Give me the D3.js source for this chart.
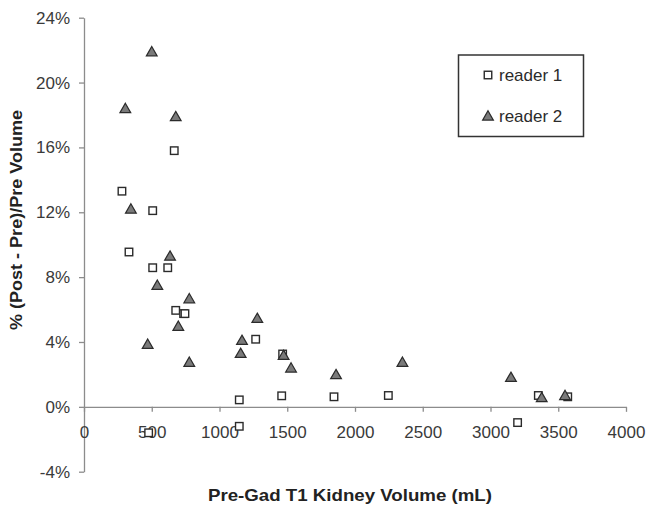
<!DOCTYPE html>
<html>
<head>
<meta charset="utf-8">
<script src="https://cdn.jsdelivr.net/npm/d3@7"></script>
<style>
  body { margin: 0; background: #fff; }
  text { font-family: "Liberation Sans", Arial, sans-serif; }
</style>
</head>
<body>
<svg width="646" height="507"></svg>
<script>
// reader 1 (open squares)
const reader1Vol = [280, 666, 507, 332, 507, 618, 677, 735, 745, 1267, 1466, 1146, 1459, 1146, 477, 1845, 2246, 3200, 3353, 3570];
const reader1Pct = [13.3, 15.8, 12.1, 9.55, 8.58, 8.58, 5.95, 5.75, 5.75, 4.17, 3.26, 0.43, 0.68, -1.2, -1.6, 0.62, 0.70, -0.97, 0.70, 0.62];
// reader 2 (grey triangles)
const reader2Vol = [500, 305, 677, 346, 635, 541, 777, 696, 470, 777, 1166, 1156, 1279, 1473, 1528, 1860, 2350, 3151, 3378, 3550];
const reader2Pct = [21.9, 18.4, 17.9, 12.2, 9.3, 7.5, 6.67, 4.97, 3.86, 2.75, 4.1, 3.3, 5.46, 3.18, 2.4, 1.99, 2.75, 1.82, 0.57, 0.70];

const xTicks = [0, 500, 1000, 1500, 2000, 2500, 3000, 3500, 4000];
const yTicks = [-4, 0, 4, 8, 12, 16, 20, 24];
const seriesNames = ['reader 1', 'reader 2'];

var svg = d3.select('svg');

let x = d3.scaleLinear().domain([0, 4000]).range([84, 626]);
let y = d3.scaleLinear().domain([-4, 24]).range([471.7, 17.7]);

// y axis
let yAxis = svg.append('g')
    .attr('transform', `translate(${x(0)},0)`)
    .call(d3.axisLeft(y).tickValues(yTicks).tickSize(5).tickPadding(9)
        .tickSizeOuter(0).tickFormat(d => d + '%'));

// x axis along the 0% line
let xAxis = svg.append('g')
    .attr('transform', `translate(0,${y(0)})`)
    .call(d3.axisBottom(x).tickValues(xTicks).tickSize(5).tickPadding(14)
        .tickSizeOuter(0).tickFormat(d3.format('d')));

svg.selectAll('.domain, .tick line')
    .attr('stroke', '#8c8c8c')
    .attr('stroke-width', 1.3);
svg.selectAll('.tick text')
    .attr('fill', '#3a3a3a')
    .style('font-size', '17px');

// axis titles
svg.append('text')
    .attr('x', 350)
    .attr('y', 501)
    .attr('text-anchor', 'middle')
    .attr('textLength', 284)
    .attr('lengthAdjust', 'spacingAndGlyphs')
    .style('font-size', '17px')
    .style('font-weight', 'bold')
    .attr('fill', '#222')
    .text('Pre-Gad T1 Kidney Volume (mL)');

svg.append('text')
    .attr('transform', 'translate(22,220) rotate(-90)')
    .attr('text-anchor', 'middle')
    .attr('textLength', 220)
    .attr('lengthAdjust', 'spacingAndGlyphs')
    .style('font-size', '16px')
    .style('font-weight', 'bold')
    .attr('fill', '#222')
    .text('% (Post - Pre)/Pre Volume');

const tri = d3.symbol().type(d3.symbolTriangle).size(50);

function drawSquare(g, cx, cy) {
    g.append('rect')
        .attr('x', cx - 3.75)
        .attr('y', cy - 3.75)
        .attr('width', 7.5)
        .attr('height', 7.5)
        .attr('fill', '#fff')
        .attr('stroke', '#2b2b2b')
        .attr('stroke-width', 1.4);
}
function drawTri(g, cx, cy) {
    g.append('path')
        .attr('d', tri)
        .attr('transform', `translate(${cx},${cy + 1})`)
        .attr('fill', '#7a7a7a')
        .attr('stroke', '#2b2b2b')
        .attr('stroke-width', 1.2);
}

let pts = svg.append('g');
reader1Vol.forEach((v, i) => drawSquare(pts, x(v), y(reader1Pct[i])));
reader2Vol.forEach((v, i) => drawTri(pts, x(v), y(reader2Pct[i])));

// legend
let legend = svg.append('g');
legend.append('rect')
    .attr('x', 458.5)
    .attr('y', 55)
    .attr('width', 125)
    .attr('height', 81.5)
    .attr('fill', '#fff')
    .attr('stroke', '#333')
    .attr('stroke-width', 1.5);
drawSquare(legend, 488, 75);
drawTri(legend, 488, 116);
seriesNames.forEach((s, i) => {
    legend.append('text')
        .attr('x', 499)
        .attr('y', 81 + i * 41)
        .style('font-size', '17px')
        .attr('fill', '#2b2b2b')
        .text(s);
});
</script>
</body>
</html>
